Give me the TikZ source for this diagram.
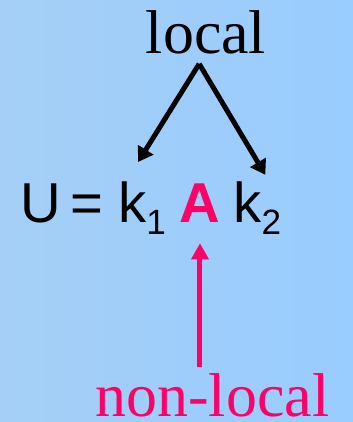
\documentclass[tikz,border=0pt]{standalone}
\usepackage{fontspec}
\setmainfont{Liberation Serif}
\setsansfont{Liberation Sans}
\usepackage{xcolor}
\usepackage{tikz}
\usetikzlibrary{arrows.meta, calc}
\definecolor{bgleft}{RGB}{165,207,246}
\definecolor{bgright}{RGB}{153,204,255}
\definecolor{nlpink}{HTML}{FF0066}
\newcommand{\ksub}[1]{k\raisebox{-8.5pt}{\fontsize{25}{26}\selectfont #1}}

\begin{document}
\begin{tikzpicture}[x=1cm, y=1cm,
  eqtext/.style={font=\fontsize{40}{44}\selectfont\sffamily, inner sep=0pt, anchor=base west},
  wordtext/.style={font=\fontsize{44}{48}\selectfont, inner sep=0pt, anchor=base},
  localarrow/.style={draw=black, line width=0.125cm, -{Triangle[length=0.36cm, width=0.44cm]}},
  nlarrow/.style={draw=nlpink, line width=0.125cm, -{Triangle[length=0.4cm, width=0.42cm]}}]
\useasboundingbox (0,0) rectangle (8.825,10.55);
\shade[left color=bgleft, right color=bgright] (0,0) rectangle (8.825,10.55);
\node[wordtext] (local) at (5.15,9.225) {local};
\node[eqtext] (lhs) at (0.5,4.975) {U\hspace{0.18em}=};
\node[eqtext] (k1) at (2.95,4.975) {\ksub{1}};
\node[eqtext, anchor=base, font=\fontsize{40}{44}\selectfont\sffamily\bfseries, text=nlpink] (A) at (5.0,4.975) {A};
\node[eqtext] (k2) at (5.83,4.975) {\ksub{2}};
\node[wordtext, text=nlpink] (nonlocal) at (5.31,0.14) {non-local};
\coordinate (apex) at ($(local.south)+(-0.17,-0.25)$);
\draw[localarrow] (apex) -- ($(k1.north)+(-0.1,0.5)$);
\draw[localarrow] (apex) -- ($(k2.north)+(0.2,0.18)$);
\draw[nlarrow, shorten <=0.15cm, shorten >=0.5cm] (nonlocal.north -| A.south) -- (A.south);
\end{tikzpicture}
\end{document}
